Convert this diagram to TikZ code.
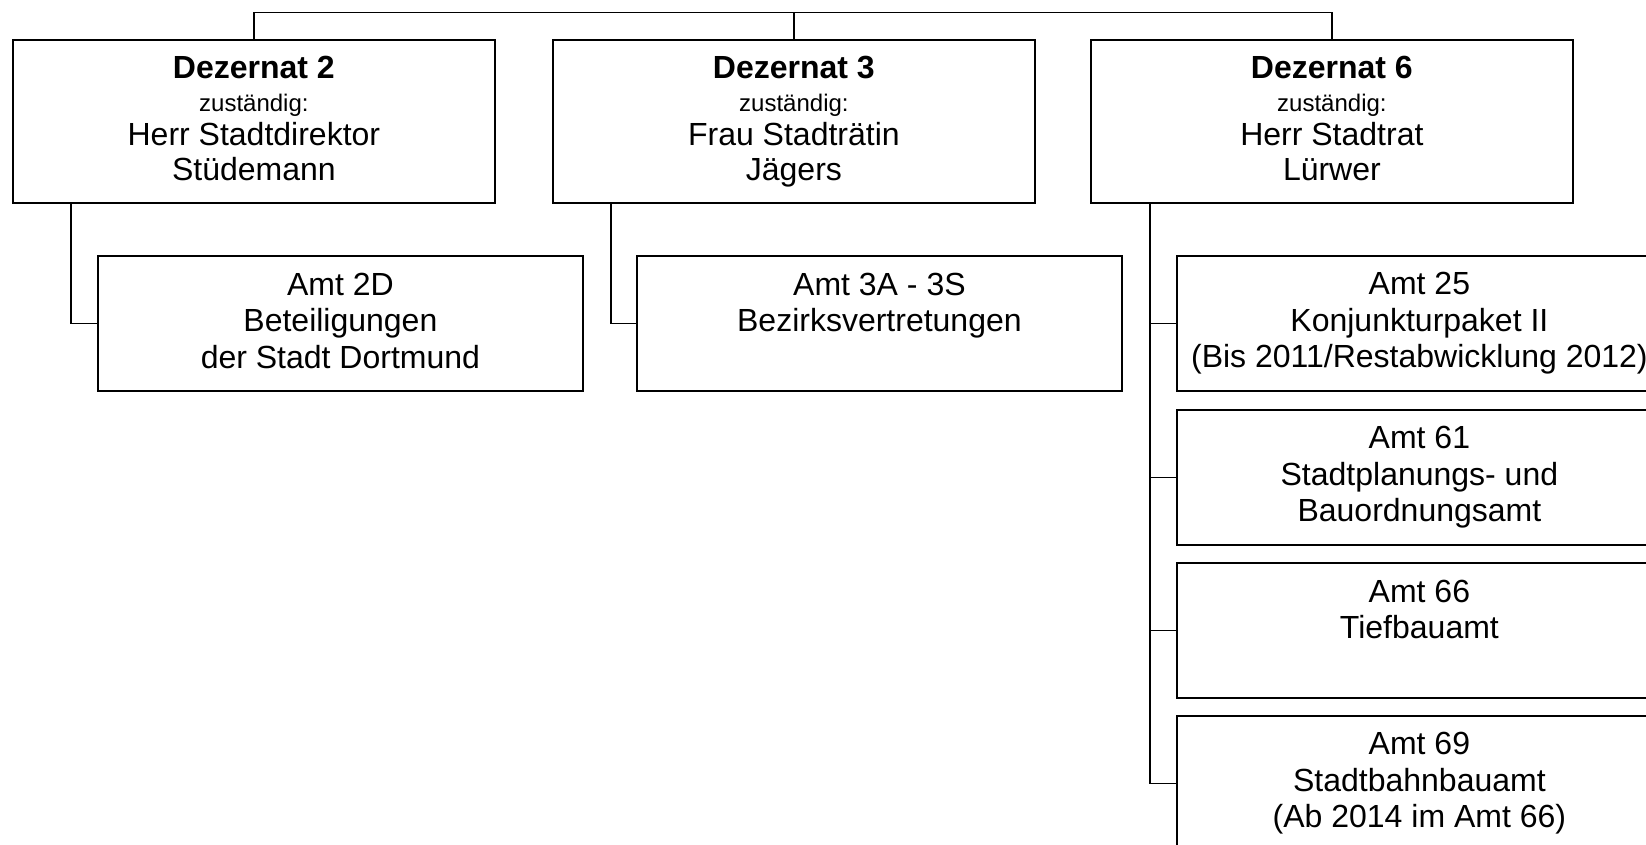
\documentclass[tikz,border=0pt]{standalone}
\usepackage{fontspec}
\setmainfont{Liberation Sans}
\newcommand{\ms}{\rule[-5.5pt]{0pt}{27.5pt}}
\tikzset{
  box/.style={draw, line width=1.8pt, rectangle, inner sep=0pt, align=center,
    anchor=north west, font=\fontsize{32}{36.5}\selectfont},
  dez/.style={box, minimum width=482pt, minimum height=163pt},
  amt/.style={box, minimum width=485pt, minimum height=135pt},
  link/.style={line width=1.8pt}
}
\newcommand{\zust}{{\fontsize{24}{36.5}\selectfont zuständig:\ms}}
\begin{document}
\begin{tikzpicture}[x=1pt, y=-1pt]
\useasboundingbox (0,0) rectangle (1646,844);
\clip (0,0) rectangle (1646,844);
\fill[white] (0,0) rectangle (1646,844);

% Dezernate
\node[dez] (d2) at (12,39) {{\bfseries Dezernat 2\ms}\\[-3.5pt]\zust\\[-2.5pt]Herr Stadtdirektor\ms\\[-1.5pt]Stüdemann\ms};
\node[dez] (d3) at (552,39) {{\bfseries Dezernat 3\ms}\\[-3.5pt]\zust\\[-2.5pt]Frau Stadträtin\ms\\[-1.5pt]Jägers\ms};
\node[dez] (d6) at (1090,39) {{\bfseries Dezernat 6\ms}\\[-3.5pt]\zust\\[-2.5pt]Herr Stadtrat\ms\\[-1.5pt]Lürwer\ms};

% Aemter
\node[amt] (a2d) at (97,255) {Amt 2D\ms\\Beteiligungen\ms\\der Stadt Dortmund\ms};
\node[amt] (a3) at (636,255) {Amt 3A - 3S\ms\\Bezirksvertretungen\ms\\\ms};
\node[amt] (a25) at (1176,255) {Amt 25\ms\\Konjunkturpaket II\ms\\(Bis 2011/Restabwicklung 2012)\ms};
\node[amt] (a61) at (1176,409) {Amt 61\ms\\Stadtplanungs- und\ms\\Bauordnungsamt\ms};
\node[amt] (a66) at (1176,562) {Amt 66\ms\\Tiefbauamt\ms\\\ms};
\node[amt] (a69) at (1176,715) {Amt 69\ms\\Stadtbahnbauamt\ms\\(Ab 2014 im Amt 66)\ms};

% top bus
\coordinate (bus) at (0,12.5);
\draw[link] (d2.north) -- (d2.north |- bus) -- (d6.north |- bus) -- (d6.north);
\draw[link] (d3.north) -- (d3.north |- bus);

% branches
\coordinate (s2) at ([xshift=59pt]d2.south west);
\coordinate (s3) at ([xshift=59pt]d3.south west);
\coordinate (s6) at ([xshift=60pt]d6.south west);
\draw[link] (s2) |- (a2d.west);
\draw[link] (s3) |- (a3.west);
\draw[link] (s6) |- (a69.west);
\draw[link] (a25.west) -- (a25.west -| s6);
\draw[link] (a61.west) -- (a61.west -| s6);
\draw[link] (a66.west) -- (a66.west -| s6);
\end{tikzpicture}
\end{document}
